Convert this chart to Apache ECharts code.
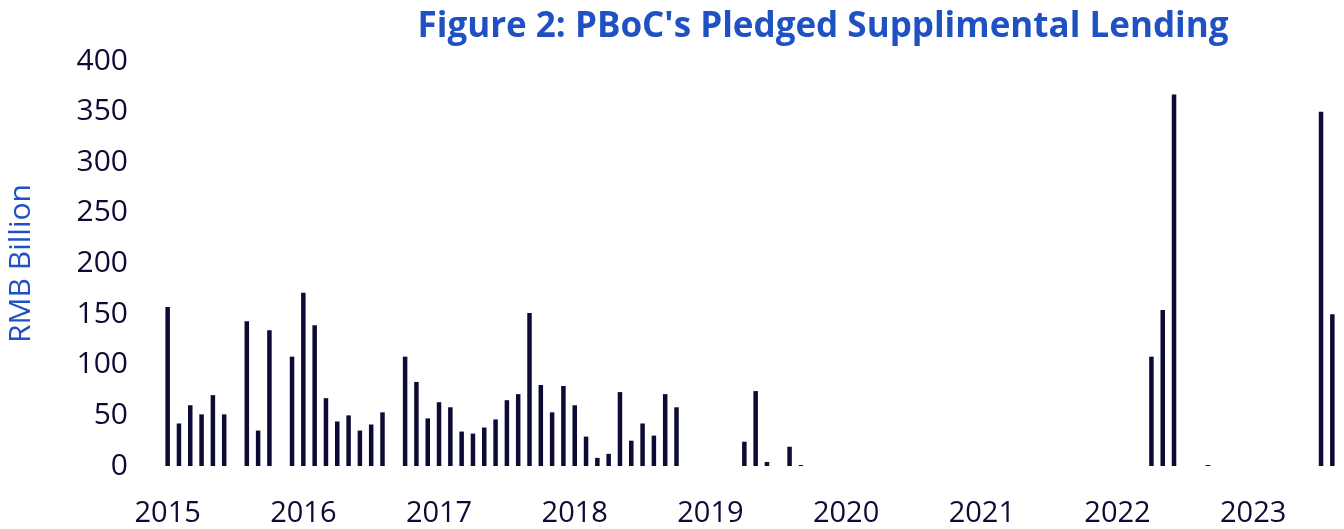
<!DOCTYPE html>
<html>
<head>
<meta charset="utf-8">
<title>PBoC Pledged Supplimental Lending</title>
<script src="https://cdn.jsdelivr.net/npm/echarts@6/dist/echarts.min.js"></script>
<style>
  html, body { margin: 0; padding: 0; background: #fff; }
  #chart { width: 1344px; height: 529px; }
</style>
</head>
<body>
<div id="chart"></div>
<script>
  // monthly PSL net lending, RMB billion
  const years = ['2015', '2016', '2017', '2018', '2019', '2020', '2021', '2022', '2023']
  const months = ['01', '02', '03', '04', '05', '06', '07', '08', '09', '10', '11', '12']

  const psl2015 = [157, 42, 60, 51, 70, 51, 0, 143, 35, 134, 0, 108]
  const psl2016 = [171, 139, 67, 44, 50, 35, 41, 53, 0, 108, 83, 47]
  const psl2017 = [63, 58, 34, 32, 38, 46, 65, 71, 151, 80, 53, 79]
  const psl2018 = [60, 29, 8, 12, 73, 25, 42, 30, 71, 58, 0, 0]
  const psl2019 = [0, 0, 0, 24, 74, 4, 0, 19, 1, 0, 0, 0]
  const psl2020 = [0, 0, 0, 0, 0, 0, 0, 0, 0, 0, 0, 0]
  const psl2021 = [0, 0, 0, 0, 0, 0, 0, 0, 0, 0, 0, 0]
  const psl2022 = [0, 0, 0, 108, 154, 367, 0, 0, 1, 0, 0, 0]
  const psl2023 = [0, 0, 0, 0, 0, 0, 350, 150]

  const yTicks = [0, 50, 100, 150, 200, 250, 300, 350, 400]

  const values = [].concat(psl2015, psl2016, psl2017, psl2018, psl2019,
    psl2020, psl2021, psl2022, psl2023)

  const categories = []
  years.forEach(y => months.forEach(m => categories.push(y + '-' + m)))
  categories.length = values.length

  const navy = '#0b0b35'
  const blue = '#1f51c3'
  const font = '"Open Sans", sans-serif'

  const option = {
    animation: false,
    title: {
      text: "Figure 2: PBoC's Pledged Supplimental Lending",
      left: 818,
      textAlign: 'center',
      top: 5,
      textStyle: { color: blue, fontFamily: font, fontWeight: 'bold', fontSize: 35 }
    },
    grid: { left: 162, right: 6, top: 61, bottom: 63, containLabel: false, outerBoundsMode: 'none' },
    xAxis: {
      type: 'category',
      data: categories,
      axisLine: { show: false },
      axisTick: { show: false },
      axisLabel: {
        interval: (idx) => idx % 12 === 0,
        formatter: (v) => v.slice(0, 4),
        margin: 33,
        color: navy,
        fontFamily: font,
        fontSize: 29
      }
    },
    yAxis: {
      type: 'value',
      min: yTicks[0],
      max: yTicks[yTicks.length - 1],
      interval: 50,
      name: 'RMB Billion',
      nameLocation: 'middle',
      nameGap: 126,
      nameTextStyle: { color: blue, fontFamily: font, fontSize: 30 },
      splitLine: { show: false },
      axisLine: { show: false },
      axisTick: { show: false },
      axisLabel: { margin: 34, color: navy, fontFamily: font, fontSize: 30 }
    },
    series: [
      {
        name: 'PSL',
        type: 'bar',
        data: values,
        barWidth: 4.5,
        itemStyle: { color: navy }
      }
    ]
  }

  const myChart = echarts.init(document.getElementById('chart'))
  myChart.setOption(option)
</script>
</body>
</html>
